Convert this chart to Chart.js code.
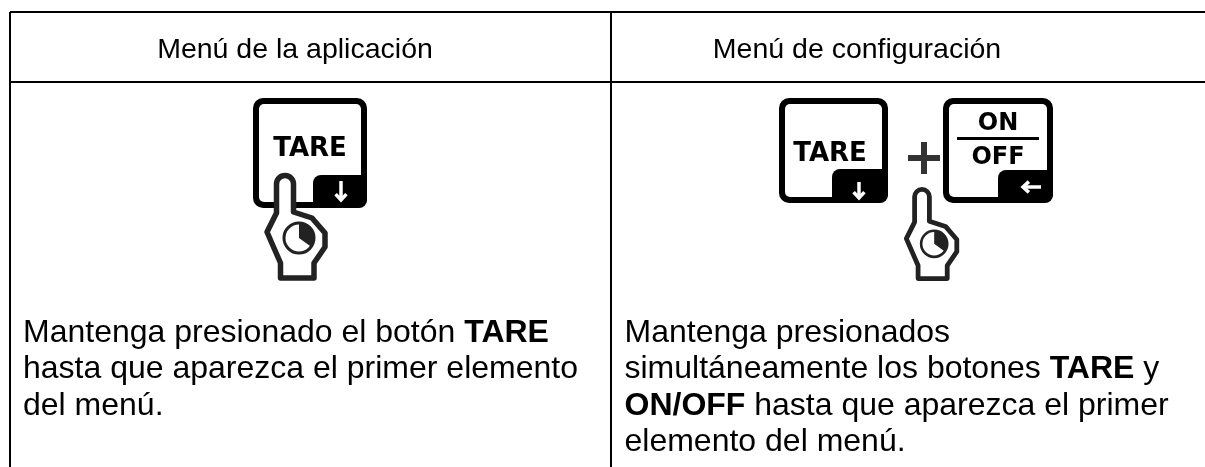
<!DOCTYPE html>
<html>
<head>
<meta charset="utf-8">
<title>Menú</title>
<script src="https://cdn.jsdelivr.net/npm/chart.js@4"></script>
<style>
  html, body { margin: 0; background: #fff; }
  canvas { display: block; }
</style>
</head>
<body>
<canvas id="myChart" width="1205" height="467"></canvas>
<script>
// table text, bold runs are marked with 1
const headers = ['Menú de la aplicación', 'Menú de configuración'];
const leftLines = [
    [['Mantenga presionado el botón ', 0], ['TARE', 1]],
    [['hasta que aparezca el primer elemento', 0]],
    [['del menú.', 0]]
];
const rightLines = [
    [['Mantenga presionados', 0]],
    [['simultáneamente los botones ', 0], ['TARE', 1], [' y', 0]],
    [['ON/OFF', 1], [' hasta que aparezca el primer', 0]],
    [['elemento del menú.', 0]]
];
// table rules, they are the grid lines of the two axes
const columnRules = [10, 611];
const rowRules = [12, 82];

const ink = '#000';
const handInk = '#222';

function roundPath(ctx, x, y, w, h, r) {
    ctx.beginPath();
    ctx.roundRect(x, y, w, h, r);
}

// key outline with the black corner tab
function drawKey(ctx, x, y, w, h, tabW, tabH) {
    ctx.fillStyle = ink;
    roundPath(ctx, x, y, w, h, 10);
    ctx.fill();
    ctx.fillStyle = '#fff';
    roundPath(ctx, x + 6, y + 6, w - 12, h - 12, 5);
    ctx.fill();
    ctx.fillStyle = ink;
    ctx.beginPath();
    ctx.roundRect(x + w - tabW, y + h - tabH, tabW, tabH, [8, 0, 8, 0]);
    ctx.fill();
}

function keyText(ctx, text, cx, baseline, size) {
    ctx.fillStyle = ink;
    ctx.font = 'bold ' + size + 'px "DejaVu Sans"';
    ctx.textAlign = 'center';
    ctx.fillText(text, cx, baseline);
}

function arrow(ctx, x0, y0, x1, y1) {
    const a = Math.atan2(y1 - y0, x1 - x0);
    ctx.strokeStyle = '#fff';
    ctx.lineWidth = 3.5;
    ctx.lineCap = 'butt';
    ctx.lineJoin = 'miter';
    ctx.beginPath();
    ctx.moveTo(x0, y0);
    ctx.lineTo(x1, y1);
    ctx.stroke();
    ctx.beginPath();
    ctx.moveTo(x1 + 8 * Math.cos(a + 2.4), y1 + 8 * Math.sin(a + 2.4));
    ctx.lineTo(x1, y1);
    ctx.lineTo(x1 + 8 * Math.cos(a - 2.4), y1 + 8 * Math.sin(a - 2.4));
    ctx.stroke();
}

// pressing hand, (x, y) is the middle of the finger tip
function drawHand(ctx, x, y, s) {
    ctx.save();
    ctx.translate(x, y);
    ctx.scale(s, s);
    ctx.beginPath();
    ctx.moveTo(-8.5, 10);
    ctx.arc(0, 9, 8.5, Math.PI, 0);
    ctx.lineTo(8.5, 37);
    ctx.lineTo(27, 43);
    ctx.lineTo(40, 58);
    ctx.lineTo(40, 72);
    ctx.lineTo(29, 88);
    ctx.lineTo(29, 103);
    ctx.lineTo(-4.5, 103);
    ctx.lineTo(-4.5, 88);
    ctx.lineTo(-18, 57);
    ctx.lineTo(-8.5, 38);
    ctx.closePath();
    ctx.fillStyle = '#fff';
    ctx.fill();
    ctx.strokeStyle = handInk;
    ctx.lineWidth = 5.5;
    ctx.lineJoin = 'round';
    ctx.stroke();
    // clock
    ctx.lineWidth = 3;
    ctx.beginPath();
    ctx.arc(14, 63, 15, 0, Math.PI * 2);
    ctx.stroke();
    ctx.fillStyle = handInk;
    ctx.beginPath();
    ctx.moveTo(14, 63);
    ctx.arc(14, 63, 15, -Math.PI / 2, Math.PI / 5);
    ctx.closePath();
    ctx.fill();
    ctx.restore();
}

const tableDrawing = {
    id: 'tableDrawing',
    afterDraw(chart) {
        const ctx = chart.ctx;
        const px = v => chart.scales.x.getPixelForValue(v);
        const py = v => chart.scales.y.getPixelForValue(v);
        ctx.save();
        ctx.textBaseline = 'alphabetic';

        // header row
        ctx.fillStyle = ink;
        ctx.textAlign = 'center';
        ctx.font = '28.5px "Liberation Sans"';
        ctx.fillText(headers[0], px(295), py(58));
        ctx.fillText(headers[1], px(857), py(58));

        // body text
        ctx.textAlign = 'left';
        [[leftLines, 23], [rightLines, 624.5]].forEach(function(col) {
            col[0].forEach(function(line, i) {
                let x = px(col[1]);
                const base = py(342 + i * 36.3);
                line.forEach(function(run) {
                    ctx.font = (run[1] ? 'bold ' : '') + '32px "Liberation Sans"';
                    ctx.fillText(run[0], x, base);
                    x += ctx.measureText(run[0]).width;
                });
            });
        });

        // left icon, slightly soft like the source
        ctx.save();
        ctx.filter = 'blur(0.6px)';
        drawKey(ctx, px(253), py(98), 114, 110, 54, 33);
        keyText(ctx, 'TARE', px(310), py(156), 26);
        arrow(ctx, px(341), py(181), px(341), py(200));
        drawHand(ctx, px(285), py(175), 1);
        ctx.restore();

        // right icon
        drawKey(ctx, px(779), py(98), 109, 105, 56, 34);
        keyText(ctx, 'TARE', px(830), py(161), 26);
        arrow(ctx, px(859), py(182), px(859), py(198));

        ctx.fillStyle = '#333';
        ctx.fillRect(px(908), py(155), 32, 6);
        ctx.fillRect(px(921), py(142), 6, 32);

        drawKey(ctx, px(943), py(98), 110, 105, 55, 33);
        keyText(ctx, 'ON', px(998), py(130), 24);
        ctx.fillStyle = ink;
        ctx.fillRect(px(957), py(137), 82, 3);
        keyText(ctx, 'OFF', px(998), py(164), 24);
        arrow(ctx, px(1041), py(187), px(1023), py(187));

        drawHand(ctx, px(922), py(189), 0.87);
        ctx.restore();
    }
};

const myChart = new Chart(document.getElementById('myChart'), {
    type: 'scatter',
    data: { datasets: [] },
    options: {
        responsive: false,
        animation: false,
        layout: { padding: { left: columnRules[0], top: rowRules[0] } },
        plugins: { legend: { display: false }, tooltip: { enabled: false } },
        scales: {
            x: {
                type: 'linear',
                position: 'bottom',
                min: columnRules[0],
                max: 1205,
                afterBuildTicks: function(axis) { axis.ticks = columnRules.map(v => ({ value: v })); },
                ticks: { display: false },
                border: { display: false },
                grid: { color: '#000', lineWidth: 2, drawTicks: false }
            },
            y: {
                type: 'linear',
                reverse: true,
                min: rowRules[0],
                max: 467,
                afterBuildTicks: function(axis) { axis.ticks = rowRules.map(v => ({ value: v })); },
                ticks: { display: false },
                border: { display: false },
                grid: { color: '#000', lineWidth: 2, drawTicks: false }
            }
        }
    },
    plugins: [tableDrawing]
});
</script>
</body>
</html>
